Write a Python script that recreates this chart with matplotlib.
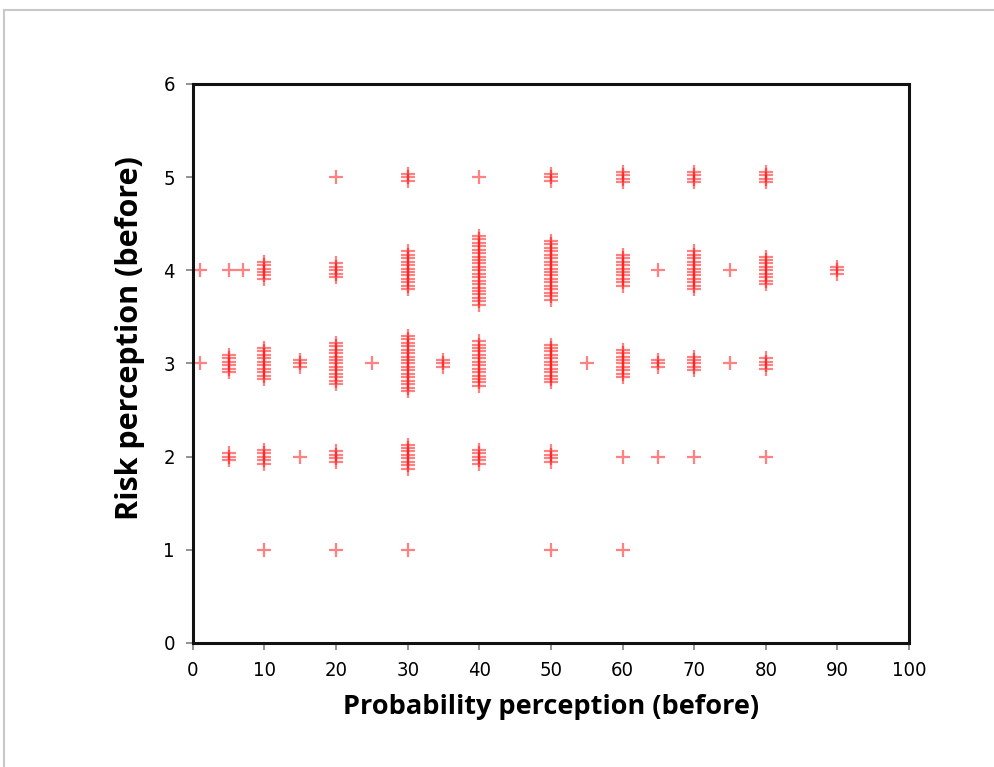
import numpy as np
import matplotlib
matplotlib.use("Agg")
import matplotlib.pyplot as plt
from matplotlib.patches import Rectangle

# responses: probability (x), risk (y), number of respondents at that pair
prob = [1, 5, 7, 10, 20, 30, 40, 50, 60, 65, 70, 75, 80, 90,
        20, 30, 40, 50, 60, 70, 80,
        1, 5, 10, 15, 20, 25, 30, 35, 40, 50, 55, 60, 65, 70, 75, 80,
        5, 10, 15, 20, 30, 40, 50, 60, 65, 70, 80,
        10, 20, 30, 50, 60]
risk = [4] * 14 + [5] * 7 + [3] * 16 + [2] * 11 + [1] * 5
count = [1, 1, 1, 6, 5, 12, 21, 18, 10, 1, 12, 1, 9, 3,
         1, 3, 1, 3, 4, 4, 4,
         1, 6, 10, 3, 13, 1, 17, 3, 14, 12, 1, 9, 3, 5, 1, 4,
         3, 5, 1, 4, 8, 5, 4, 1, 1, 1, 1,
         1, 1, 1, 1, 1]

step = 0.037  # vertical spread so overlapping answers stay visible


def stack(x, y, n):
    offs = (np.arange(n) - (n - 1) / 2.0) * step
    return np.full(n, x), y + offs


def main():
    fig = plt.figure(figsize=(9.94, 7.67), dpi=100)
    fig.patches.append(Rectangle((0.004, -0.01), 1.1, 0.997, transform=fig.transFigure,
                                 fill=False, edgecolor="#c8c8c8", linewidth=1.5))
    ax = fig.add_axes([0.194, 0.1617, 0.7205, 0.7288])

    px, py = [], []
    for x, y, n in zip(prob, risk, count):
        a, b = stack(x, y, n)
        px.extend(a)
        py.extend(b)
    ax.plot(px, py, linestyle="none", marker="+", markersize=9.5,
            markeredgewidth=1.6, color="#ff1a1a", alpha=0.55)

    ax.set_xlim(0, 100)
    ax.set_ylim(0, 6)
    ax.set_xticks(np.arange(0, 101, 10))
    ax.set_yticks(np.arange(0, 7, 1))
    for lab in ax.get_xticklabels() + ax.get_yticklabels():
        lab.set_family("DejaVu Sans")
        lab.set_stretch("condensed")
        lab.set_fontsize(14.5)
    ax.tick_params(direction="out", length=5, width=1.2, color="#808080", pad=8)

    for s in ax.spines.values():
        s.set_linewidth(2.2)
        s.set_color("#111111")

    ax.set_xlabel("Probability perception (before)", fontsize=19.5, fontweight="bold",
                  family="Open Sans", labelpad=10)
    ax.set_ylabel("Risk perception (before)", fontsize=22, fontweight="bold",
                  family="Open Sans")
    ax.yaxis.set_label_coords(-0.067, 0.546)

    fig.savefig("out.png", dpi=100)


main()
